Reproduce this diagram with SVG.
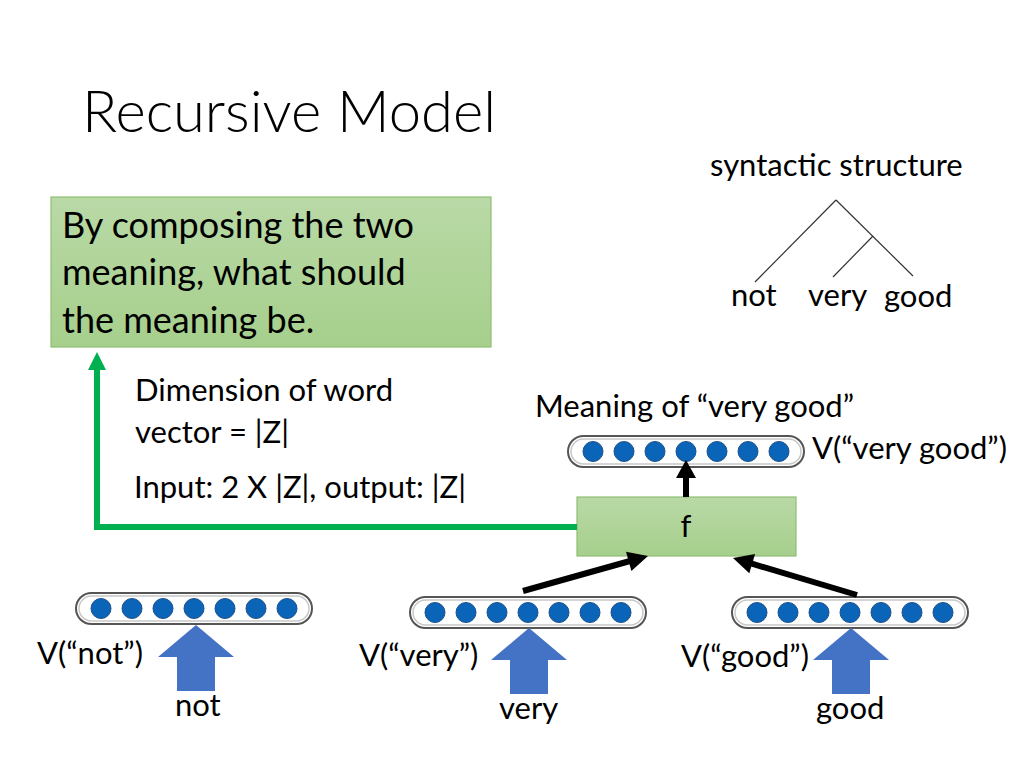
<svg xmlns="http://www.w3.org/2000/svg" width="1024" height="768" viewBox="0 0 1024 768">
<defs>
<linearGradient id="gg" x1="0" y1="0" x2="0" y2="1">
<stop offset="0" stop-color="#b9d9a6"/>
<stop offset="1" stop-color="#a6cf8c"/>
</linearGradient>
<g id="vec">
<rect x="0" y="0" width="236" height="31" rx="15.5" fill="#fff" stroke="#555" stroke-width="2"/>
<rect x="3" y="3" width="230" height="25" rx="12.5" fill="none" stroke="#c8c8c8" stroke-width="1.5"/>
<g fill="#0a64b8" stroke="#1d4f8a" stroke-width="1">
<circle cx="25" cy="15.5" r="10"/><circle cx="56" cy="15.5" r="10"/><circle cx="87" cy="15.5" r="10"/><circle cx="118" cy="15.5" r="10"/><circle cx="149" cy="15.5" r="10"/><circle cx="180" cy="15.5" r="10"/><circle cx="211" cy="15.5" r="10"/>
</g>
</g>
<path id="barrow" d="M0,0 L38,32 L19,32 L19,66 L-19,66 L-19,32 L-38,32 z" fill="#4472c4"/>
</defs>
<style>
text{font-family:Lato,"Liberation Sans",sans-serif;fill:#000}
.t{font-size:31px}
.big{font-size:36px}
.box{fill:url(#gg);stroke:#8fbe74;stroke-width:1.2}
.blk{stroke:#000;stroke-width:6;fill:none}
</style>
<rect width="1024" height="768" fill="#fff"/>
<text x="82" y="132" style="font-size:58px;font-weight:300">Recursive Model</text>

<g id="composeBox">
<rect class="box" x="51" y="197" width="440" height="150"/>
<text class="big" x="62" y="238">By composing the two</text>
<text class="big" x="62" y="285">meaning, what should</text>
<text class="big" x="62" y="333">the meaning be.</text>
</g>

<g id="tree" stroke="#333" stroke-width="1.2" fill="none">
<line x1="836" y1="200" x2="755" y2="282"/>
<line x1="836" y1="200" x2="913" y2="276"/>
<line x1="873" y1="236" x2="833" y2="277"/>
</g>
<g id="treeLabels" class="t">
<text x="710" y="176">syntactic structure</text>
<text x="731" y="306">not</text>
<text x="808" y="306">very</text>
<text x="884" y="307">good</text>
</g>

<g id="notes" class="t">
<text x="135" y="401">Dimension of word</text>
<text x="135" y="443">vector = |Z|</text>
<text x="134" y="498">Input: 2 X |Z|, output: |Z|</text>
<text x="535" y="417">Meaning of “very good”</text>
<text x="812" y="459">V(“very good”)</text>
</g>

<g id="fNode">
<rect class="box" x="577" y="497" width="219" height="59"/>
<text class="t" x="686" y="537" text-anchor="middle">f</text>
</g>

<g id="vecVeryGood"><use href="#vec" x="568" y="436"/></g>
<g id="vecNot"><use href="#vec" x="76" y="593"/></g>
<g id="vecVery"><use href="#vec" x="410" y="597"/></g>
<g id="vecGood"><use href="#vec" x="732" y="597"/></g>

<g id="connectors">
<polyline points="577,527 97,527 97,369" fill="none" stroke="#00b050" stroke-width="6"/>
<polygon points="88,370 106,370 97,352" fill="#00b050"/>
<line class="blk" x1="686" y1="497" x2="686" y2="477"/>
<polygon points="676,478 696,478 686,460" fill="#000"/>
<line class="blk" x1="523" y1="591" x2="630" y2="561"/>
<polygon points="631.4,571 626,551.8 648,556" fill="#000"/>
<line class="blk" x1="857" y1="595" x2="751" y2="563.4"/>
<polygon points="755.1,554.1 749.3,573.3 733,558" fill="#000"/>
</g>

<g id="inputNot"><use href="#barrow" x="196" y="625"/></g>
<g id="inputVery"><use href="#barrow" x="529" y="628"/></g>
<g id="inputGood"><use href="#barrow" x="851" y="628"/></g>

<g id="wordLabels" class="t">
<text x="37" y="664">V(“not”)</text>
<text x="359" y="666">V(“very”)</text>
<text x="681" y="667">V(“good”)</text>
<text x="175" y="716">not</text>
<text x="499" y="719">very</text>
<text x="816" y="719">good</text>
</g>
</svg>
